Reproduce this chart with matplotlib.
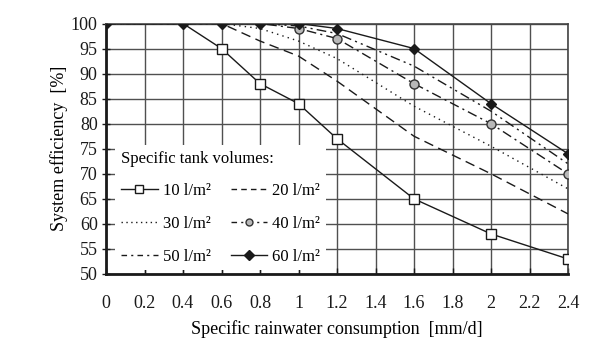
import matplotlib
matplotlib.use("Agg")
import matplotlib.pyplot as plt
from matplotlib.lines import Line2D

plt.rcParams['font.family'] = ['Liberation Serif', 'DejaVu Serif']

consumption = [0, 0.4, 0.6, 0.8, 1.0, 1.2, 1.6, 2.0, 2.4]
eff_10 = [100, 100, 95, 88, 84, 77, 65, 58, 53]
eff_20 = [100, 100, 100, 96.5, 93.5, 88.5, 77.5, 70, 62]
eff_30 = [100, 100, 100, 99, 96.5, 93, 83.5, 75.5, 67]
eff_40 = [100, 100, 100, 100, 99, 97, 88, 80, 70]
eff_50 = [100, 100, 100, 100, 99.5, 98, 91.5, 82.5, 72]
eff_60 = [100, 100, 100, 100, 100, 99, 95, 84, 74]
labels = ['10 l/m²', '20 l/m²', '30 l/m²', '40 l/m²', '50 l/m²', '60 l/m²']
xticks = [0, 0.2, 0.4, 0.6, 0.8, 1.0, 1.2, 1.4, 1.6, 1.8, 2.0, 2.2, 2.4]
xticklabels = ['0', '0.2', '0.4', '0.6', '0.8', '1', '1.2', '1.4', '1.6', '1.8', '2', '2.2', '2.4']
yticks = [50, 55, 60, 65, 70, 75, 80, 85, 90, 95, 100]

FS = 13
LFS = 12
lc = '#1a1a1a'
fig = plt.figure(figsize=(6.04, 3.48), dpi=100)
ax = fig.add_axes([106/604, 1-274/348, 462/604, 250.5/348])

ax.set_xlim(0, 2.4)
ax.set_ylim(50, 100)
ax.set_xticks(xticks)
ax.set_xticklabels(xticklabels, fontsize=FS)
ax.set_yticks(yticks)
ax.set_yticklabels([str(v) for v in yticks], fontsize=FS)
ax.grid(True, color='#505050', linewidth=1.0, zorder=0)
ax.set_axisbelow(True)

for side in ['top', 'right']:
    ax.spines[side].set_color('#444444')
    ax.spines[side].set_linewidth(1.2)
for side in ['left', 'bottom']:
    ax.spines[side].set_color(lc)
    ax.spines[side].set_linewidth(2.0)
ax.tick_params(axis='y', direction='inout', length=6, width=1, pad=3, colors=lc)
ax.tick_params(axis='x', direction='in', length=4, width=1, pad=15, colors=lc)

lw = 1.0
ax.plot(consumption, eff_20, color=lc, lw=lw, linestyle=(0, (7, 4)), zorder=3)
ax.plot(consumption, eff_30, color=lc, lw=lw, linestyle=(0, (1, 3)), zorder=3)
ax.plot(consumption, eff_50, color=lc, lw=lw, linestyle=(0, (7, 3, 1.5, 3, 1.5, 3)), zorder=3)
ax.plot(consumption, eff_40, color=lc, lw=lw, linestyle=(0, (7, 3, 1.5, 3)), zorder=3)
ax.plot(consumption[4:], eff_40[4:], linestyle='none', marker='o', ms=6.5,
        mfc='#b8b8b8', mec='#333333', mew=1.0, zorder=4)
ax.plot(consumption, eff_10, color=lc, lw=lw, zorder=4)
ax.plot(consumption[2:], eff_10[2:], linestyle='none', marker='s', ms=6.5,
        mfc='white', mec=lc, mew=1.0, zorder=5)
ax.plot(consumption, eff_60, color=lc, lw=lw, marker='D', ms=5.5,
        mfc=lc, mec=lc, zorder=6)

ax.set_xlabel('Specific rainwater consumption  [mm/d]', fontsize=FS, labelpad=6)
ax.set_ylabel('System efficiency  [%]', fontsize=FS, labelpad=2)

h10 = Line2D([], [], color=lc, lw=lw, marker='s', ms=6, mfc='white', mec=lc)
h20 = Line2D([], [], color=lc, lw=lw, linestyle=(0, (4, 3)))
h30 = Line2D([], [], color=lc, lw=lw, linestyle=(0, (1, 2.5)))
h40 = Line2D([], [], color=lc, lw=lw, linestyle=(0, (4, 3, 1.5, 3)), marker='o', ms=5,
             mfc='#b8b8b8', mec='#333333')
h50 = Line2D([], [], color=lc, lw=lw, linestyle=(0, (4, 3, 1.5, 3)))
h60 = Line2D([], [], color=lc, lw=lw, marker='D', ms=5, mfc=lc, mec=lc)
# matplotlib fills legend columns first; order so rows read 10/20, 30/40, 50/60
handles = [h10, h30, h50, h20, h40, h60]
leg_labels = [labels[0], labels[2], labels[4], labels[1], labels[3], labels[5]]
leg = ax.legend(handles, leg_labels, ncol=2, title='Specific tank volumes:',
                title_fontsize=LFS, fontsize=LFS, loc='lower left',
                bbox_to_anchor=(0.02, 0.014), borderaxespad=0,
                frameon=True, fancybox=False, framealpha=1, edgecolor='none',
                facecolor='white', handlelength=2.2, handletextpad=0.3,
                columnspacing=1.2, labelspacing=1.0, borderpad=0.35,
                alignment='left')
leg.set_zorder(10)

fig.savefig('out.png', dpi=100)
